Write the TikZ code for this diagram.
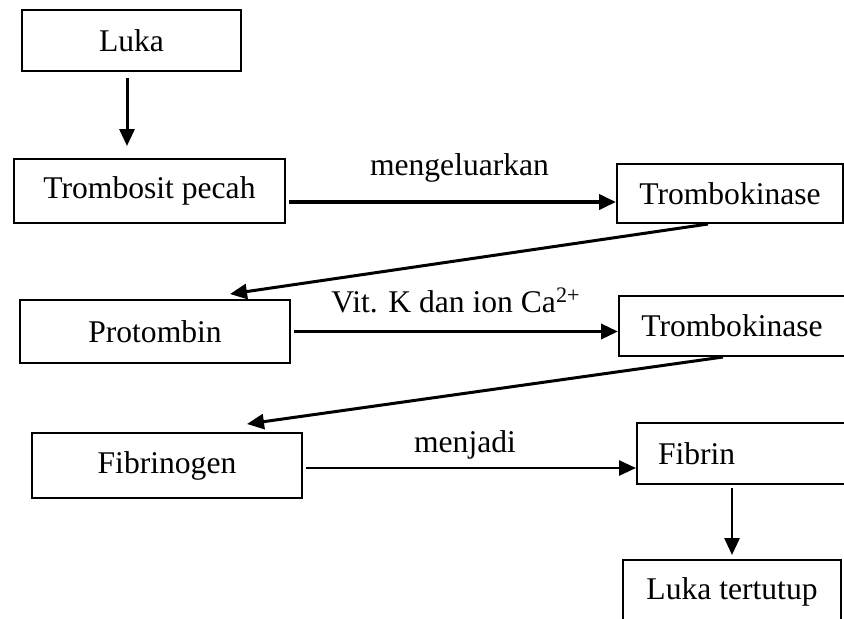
\documentclass[tikz,border=0pt]{standalone}
\usepackage{fontspec}
\setmainfont{Liberation Serif}
\usetikzlibrary{arrows.meta,calc}

\begin{document}
\begin{tikzpicture}[x=0.5pt,y=-0.5pt,
    box/.style={draw,line width=1pt,inner sep=0pt,font=\fontsize{15.8}{19}\selectfont},
    arr/.style={line width=1.5pt,-{Triangle[length=8.5pt,width=7.5pt]}},
    lbl/.style={anchor=base,font=\fontsize{15.8}{19}\selectfont}]
                \useasboundingbox (0,0) rectangle (844,618);
                \node[box,minimum width=109.5pt,minimum height=30.5pt] (luka) at (131.5,40.5) {Luka};
                \node[box,minimum width=135.5pt,minimum height=32pt] (trombosit) at (149.5,191) {Trombosit pecah};
                \node[box,minimum width=113pt,minimum height=29.5pt] (tk1) at (730,193.5) {Trombokinase};
                \node[box,minimum width=135pt,minimum height=31.5pt] (protombin) at (155,331.5) {Protombin};
                \node[box,minimum width=113pt,minimum height=30pt] (tk2) at (732,326) {Trombokinase};
                \node[box,minimum width=135pt,minimum height=32.5pt] (fibrinogen) at (167,465.5) {Fibrinogen};
                \node[box,anchor=west,minimum height=30.5pt,text width=86pt,inner xsep=10.5pt,align=left] (fibrin) at (636,453.5) {Fibrin};
                \node[box,minimum width=109pt,minimum height=32pt] (lukatertutup) at (732,592) {Luka tertutup};
                \draw[arr] ($(luka.south)+(-4.5,6)$) -- ($(luka.south |- trombosit.north)+(-4.5,-12)$);
                \draw[arr,line width=1.9pt] ($(trombosit.east)+(3,11)$) -- ($(trombosit.east -| tk1.west)+(0,11)$) node[lbl,midway,xshift=3.5pt,yshift=13.5pt] {mengeluarkan};
                \draw[arr] ($(tk1.south)+(-22,0)$) -- ($(protombin.north)+(75,-5)$);
                \draw[arr,line width=1.7pt] ($(protombin.east)+(3,0)$) -- (protombin.east -| tk2.west) node[lbl,midway,yshift=9.5pt] {Vit. K dan ion Ca\textsuperscript{2+}};
                \draw[arr] ($(tk2.south)+(-9,0)$) -- ($(fibrinogen.north)+(80,-8)$);
                \draw[arr,line width=1.3pt] ($(fibrinogen.east)+(3,2.5)$) -- ($(fibrinogen.east -| fibrin.west)+(0,2.5)$) node[lbl,midway,xshift=-3pt,yshift=8pt] {menjadi};
                \draw[arr,line width=1.4pt] ($(lukatertutup.north |- fibrin.south)+(0,3)$) -- ($(lukatertutup.north)+(0,-4)$);
\end{tikzpicture}
\end{document}
